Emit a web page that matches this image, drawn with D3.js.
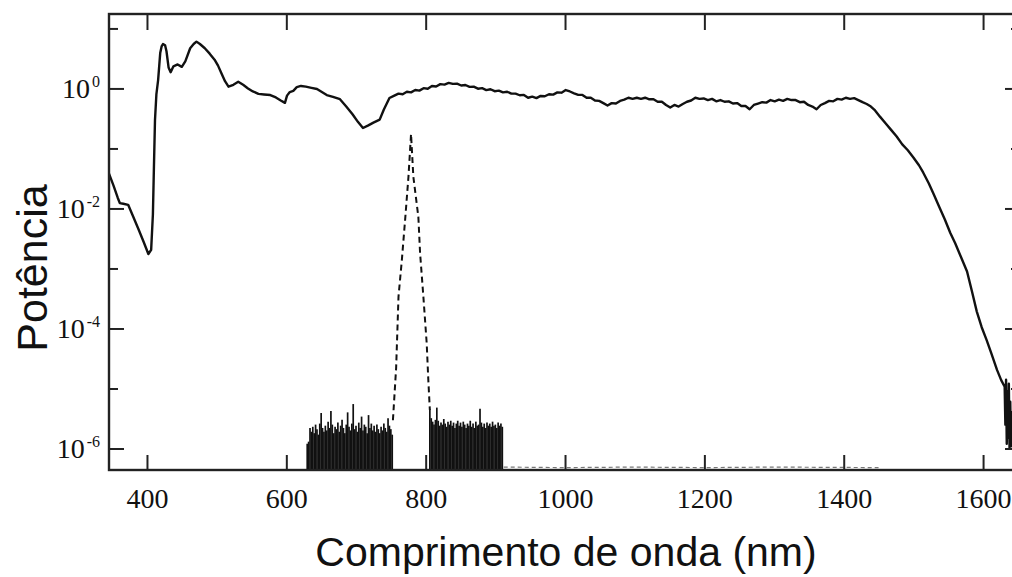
<!DOCTYPE html>
<html><head><meta charset="utf-8">
<script src="https://cdn.jsdelivr.net/npm/d3@7/dist/d3.min.js"></script>
<style>body{margin:0;background:#fff}svg{display:block}</style>
</head><body><svg id="c" width="1012" height="577"></svg>
<script>
// ---- data ----
const xTicks = [400, 600, 800, 1000, 1200, 1400, 1600];
const yMajorExp = [0, -2, -4, -6];
const yMinorExp = [1, -1, -3, -5];
const xTitle = "Comprimento de onda (nm)";
const yTitle = "Potência";

// supercontinuum (solid)
const supWl = [345.5,352,358,361,366,373,380,388,395,402,406,408.5,410,411.5,413.5,416,419,421,423,426,428,431,434,438,444,450,455,462,467,471,476,483,490,497,502,507,512,517,524,531,538,545,552,560,568,577,585,592,598,601,605,610,615,621,628,636,644,651,658,667,677,686,695,703,710,717,725,734,740,748,
755,761,767,773,779,785,791,797,803,809,815,821,827,833,839,845,851,857,863,869,875,881,887,893,899,905,911,917,923,929,935,941,947,953,959,965,971,977,983,989,995,1001,1007,1013,1019,1025,1031,1037,1043,1049,1055,1061,1067,1073,1079,1085,1091,1097,1103,1109,1115,1121,1127,1133,1139,1145,1151,1157,1163,1169,1175,1181,1187,1193,1199,1205,1211,1217,1223,1229,1235,1241,1247,1253,1259,1265,1271,1277,1283,1289,1295,1301,1307,1313,1319,1325,1331,1337,1343,1349,1355,1361,1367,1373,1379,1385,1391,1397,1403,1409,1415,1421,1427,1433,1439,1445,
1452,1460,1468,1476,1484,1492,1500,1508,1514,1522,1529,1537,1545,1553,1560,1568,1577,1584,1591,1598,1605,1612,1620,1626,1631,1632,1633,1634,1635,1636,1637,1638,1639,1640,1641,1643,1646,1650];
const supP = [0.038,0.024,0.0151,0.0123,0.0120,0.0115,0.00741,0.00447,0.00282,0.00174,0.00204,0.00794,0.0501,0.295,0.794,1.38,3.89,5.01,5.50,5.25,4.17,2.24,1.86,2.34,2.51,2.29,2.82,4.68,5.50,6.03,5.50,4.68,3.80,3.02,2.40,1.78,1.32,1.07,1.15,1.29,1.15,1.00,0.891,0.813,0.794,0.776,0.708,0.631,0.575,0.759,0.871,0.912,1.05,1.10,1.07,1.02,0.977,0.871,0.776,0.724,0.661,0.501,0.372,0.275,0.219,0.240,0.269,0.302,0.447,0.692,
0.76,0.82,0.80,0.88,0.86,0.94,0.92,1.01,0.99,1.10,1.08,1.18,1.16,1.24,1.19,1.20,1.12,1.14,1.06,1.07,0.99,1.01,0.94,0.97,0.90,0.92,0.86,0.88,0.82,0.82,0.77,0.78,0.70,0.73,0.69,0.75,0.74,0.80,0.79,0.86,0.85,0.94,0.89,0.83,0.78,0.78,0.70,0.70,0.63,0.62,0.57,0.52,0.57,0.56,0.62,0.65,0.70,0.67,0.70,0.67,0.70,0.66,0.66,0.60,0.60,0.53,0.48,0.53,0.50,0.55,0.60,0.63,0.70,0.67,0.68,0.64,0.67,0.61,0.64,0.60,0.61,0.56,0.57,0.51,0.51,0.45,0.53,0.56,0.59,0.58,0.64,0.61,0.65,0.62,0.67,0.64,0.64,0.59,0.60,0.53,0.50,0.45,0.53,0.57,0.62,0.61,0.67,0.65,0.70,0.67,0.69,0.64,0.59,0.55,0.50,0.43,
0.339,0.263,0.204,0.158,0.117,0.0933,0.0708,0.0525,0.0398,0.0263,0.0174,0.0107,0.00661,0.00389,0.00263,0.00158,0.000891,0.000417,0.000191,0.000105,6.46e-5,3.80e-5,2.04e-5,1.38e-5,1.07e-5,2.5e-6,1.4e-5,1.2e-6,9e-6,1.5e-6,1.2e-5,1.0e-6,6e-6,1.1e-6,4e-6,1.0e-6,1.05e-6,1.05e-6];

// pump pulse (dashed)
const pumpWl = [753,757.6,761,765.8,770.5,775.3,779,782.3,789.5,792,796.7,801.5,803.8,806];
const pumpP = [2.95e-6,2.19e-5,3.39e-4,1.38e-3,6.46e-3,3.39e-2,0.174,3.39e-2,7.24e-3,1.78e-3,3.39e-4,5.62e-5,1.38e-5,4.37e-6];

// detector noise floor, left block
const noiseLWl = [630,632,634,636,638,640,642,644,646,648,650,652,654,656,658,660,662,664,666,668,670,672,674,676,678,680,682,684,686,688,690,692,694,696,698,700,702,704,706,708,710,712,714,716,718,720,722,724,726,728,730,732,734,736,738,740,742,744,746,748,750,752];
const noiseLP = [1.2e-6,1.3e-6,2.2e-6,1.9e-6,2.3e-6,1.8e-6,2.5e-6,2.1e-6,1.7e-6,2.6e-6,3.9e-6,2.2e-6,1.9e-6,2.4e-6,2.0e-6,2.8e-6,2.2e-6,4.2e-6,2.5e-6,1.8e-6,2.3e-6,2.1e-6,2.7e-6,1.9e-6,2.4e-6,3.0e-6,2.2e-6,1.8e-6,2.5e-6,4.0e-6,2.3e-6,2.0e-6,2.6e-6,5.5e-6,2.1e-6,2.4e-6,1.9e-6,2.7e-6,2.2e-6,3.4e-6,2.0e-6,2.5e-6,2.3e-6,1.8e-6,3.6e-6,2.2e-6,2.6e-6,2.0e-6,2.4e-6,1.9e-6,2.5e-6,2.1e-6,1.8e-6,2.3e-6,2.0e-6,2.6e-6,2.2e-6,1.9e-6,3.2e-6,2.4e-6,2.1e-6,1.7e-6];
// detector noise floor, right block
const noiseRWl = [806,808,810,812,814,816,818,820,822,824,826,828,830,832,834,836,838,840,842,844,846,848,850,852,854,856,858,860,862,864,866,868,870,872,874,876,878,880,882,884,886,888,890,892,894,896,898,900,902,904,906,908,910];
const noiseRP = [4.5e-6,3.2e-6,2.8e-6,2.5e-6,3.0e-6,4.8e-6,2.9e-6,2.4e-6,2.7e-6,2.5e-6,3.1e-6,2.6e-6,2.3e-6,2.8e-6,2.5e-6,2.9e-6,2.4e-6,2.7e-6,2.2e-6,2.6e-6,2.9e-6,2.4e-6,2.7e-6,2.3e-6,2.8e-6,2.5e-6,2.2e-6,2.6e-6,2.4e-6,2.9e-6,2.3e-6,2.6e-6,2.2e-6,2.8e-6,2.4e-6,2.5e-6,4.6e-6,2.7e-6,2.3e-6,2.6e-6,2.2e-6,2.7e-6,2.4e-6,2.6e-6,2.3e-6,2.8e-6,2.4e-6,2.5e-6,2.2e-6,2.7e-6,2.4e-6,2.6e-6,2.3e-6];
// faint baseline trace
const baseWl = [912, 1000, 1100, 1200, 1300, 1450];
const baseP = [4.9e-7, 4.8e-7, 4.9e-7, 4.8e-7, 4.9e-7, 4.8e-7];

// ---- layout ----
const L = 109, R = 1020, T = 14, B = 470;
const serif = "'Liberation Serif','Times New Roman',serif";
const sans = "'Liberation Sans',Arial,sans-serif";
const svg = d3.select("#c");
const x = d3.scaleLinear().domain([345.5, 1653]).range([L, R]);
const y = d3.scaleLog().domain([4.38e-7, 17.4]).range([B, T]);

svg.append("defs").append("clipPath").attr("id","clip")
  .append("rect").attr("x",L).attr("y",T).attr("width",R-L).attr("height",B-T);
const plot = svg.append("g").attr("clip-path","url(#clip)");

// noise blocks as vertical strokes
const noise = noiseLWl.map((w,i)=>[w,noiseLP[i]]).concat(noiseRWl.map((w,i)=>[w,noiseRP[i]]));
plot.append("g").selectAll("line").data(noise).join("line")
  .attr("x1",d=>x(d[0])).attr("x2",d=>x(d[0]))
  .attr("y1",y(y.domain()[0])).attr("y2",d=>y(d[1]))
  .attr("stroke","#111").attr("stroke-width",1.7);

const line = d3.line().x(d=>x(d[0])).y(d=>y(d[1]));
plot.append("path").datum(baseWl.map((w,i)=>[w,baseP[i]])).attr("d",line)
  .attr("fill","none").attr("stroke","#777").attr("stroke-width",1.2).attr("stroke-dasharray","4,3");
plot.append("path").datum(pumpWl.map((w,i)=>[w,pumpP[i]])).attr("d",line)
  .attr("fill","none").attr("stroke","#111").attr("stroke-width",2).attr("stroke-dasharray","6,4");
plot.append("path").datum(supWl.map((w,i)=>[w,supP[i]])).attr("d",line)
  .attr("fill","none").attr("stroke","#111").attr("stroke-width",2.4).attr("stroke-linejoin","round");

// axes
function style(g){ g.select(".domain").remove(); g.selectAll(".tick line").attr("stroke","#222").attr("stroke-width",2); }
const gx = svg.append("g").attr("transform",`translate(0,${B})`)
  .call(d3.axisBottom(x).tickValues(xTicks).tickSizeInner(-15).tickSizeOuter(0).tickFormat(d3.format("d")));
style(gx);
gx.selectAll(".tick text").attr("y",38).attr("dy",0).attr("font-family",serif).attr("font-size",28).attr("fill","#111");
const gxt = svg.append("g").attr("transform",`translate(0,${T})`)
  .call(d3.axisTop(x).tickValues(xTicks).tickSizeInner(-16).tickSizeOuter(0).tickFormat(""));
style(gxt);

const major = yMajorExp.map(e=>Math.pow(10,e)), minor = yMinorExp.map(e=>Math.pow(10,e));
[[d3.axisLeft,L],[d3.axisRight,R]].forEach(([ax,pos])=>{
  const g1 = svg.append("g").attr("transform",`translate(${pos},0)`)
    .call(ax(y).tickValues(major).tickSizeInner(-15).tickSizeOuter(0).tickFormat(""));
  style(g1);
  const g2 = svg.append("g").attr("transform",`translate(${pos},0)`)
    .call(ax(y).tickValues(minor).tickSizeInner(-9).tickSizeOuter(0).tickFormat(""));
  style(g2);
});

// frame
svg.append("rect").attr("x",L).attr("y",T).attr("width",R-L).attr("height",B-T)
  .attr("fill","none").attr("stroke","#222").attr("stroke-width",2.4);

// y tick labels 10^n
yMajorExp.forEach(e=>{
  const t = svg.append("text").attr("x",100).attr("y",y(Math.pow(10,e))+9.5)
    .attr("text-anchor","end").attr("font-family",serif).attr("font-size",28).attr("fill","#111");
  t.append("tspan").text("10");
  t.append("tspan").attr("font-size",16).attr("dx",2).attr("dy",-11).text(e===0?"0":"-"+(-e));
});

// titles
svg.append("text").attr("x",566).attr("y",566).attr("text-anchor","middle")
  .attr("font-family",sans).attr("font-size",41).attr("fill","#111").text(xTitle);
svg.append("text").attr("transform","translate(47,268) rotate(-90)").attr("text-anchor","middle")
  .attr("font-family",sans).attr("font-size",43).attr("fill","#111").text(yTitle);
</script></body></html>
